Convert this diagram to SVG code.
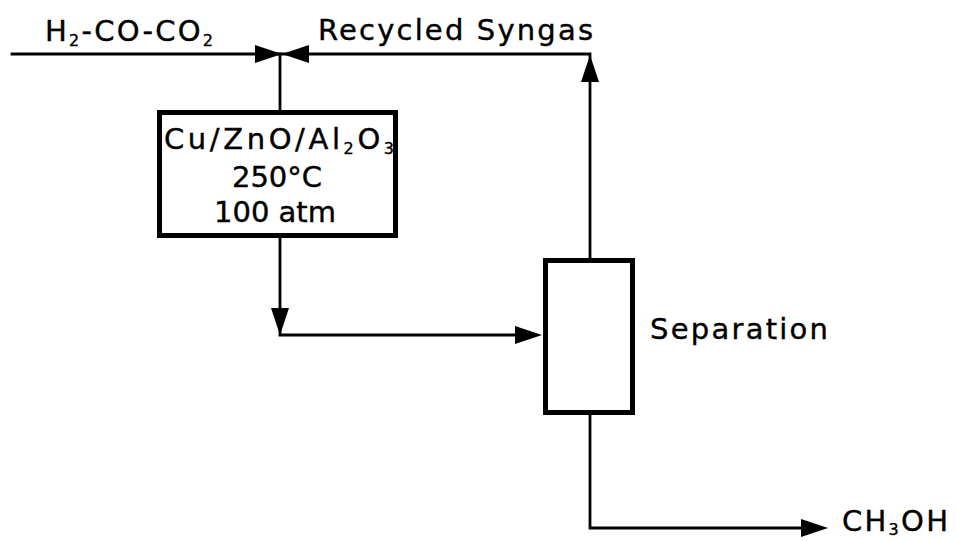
<svg xmlns="http://www.w3.org/2000/svg" xmlns:xlink="http://www.w3.org/1999/xlink" width="956" height="541" viewBox="0 0 956 541">
<style>
.bg{fill:#ffffff}
.line{fill:none;stroke:#000;stroke-width:2.8;stroke-linecap:square;stroke-linejoin:miter}
.box{fill:#ffffff;stroke:#000;stroke-width:5}
.t{font-family:"DejaVu Sans","Liberation Sans",sans-serif;font-size:29px;fill:#000;stroke:#000;stroke-width:0.4}
.sub{font-size:16px}
.head{fill:#000}
</style>
<defs>
<path id="ah" d="M0,0 L-27,-9 L-27,9 Z"/>
</defs>
<rect class="bg" x="0" y="0" width="956" height="541"/>
<g id="connectors">
<path class="line" d="M12,54 H590 V258"/>
<path class="line" d="M280,54 V112"/>
<path class="line" d="M280,238 V335 H530"/>
<path class="line" d="M590,415 V528 H815"/>
<use class="head" xlink:href="#ah" href="#ah" transform="translate(282,54)"/>
<use class="head" xlink:href="#ah" href="#ah" transform="translate(282,54) rotate(180)"/>
<use class="head" xlink:href="#ah" href="#ah" transform="translate(590,55) rotate(-90)"/>
<use class="head" xlink:href="#ah" href="#ah" transform="translate(280,335) rotate(90)"/>
<use class="head" xlink:href="#ah" href="#ah" transform="translate(542,335)"/>
<use class="head" xlink:href="#ah" href="#ah" transform="translate(828,528)"/>
</g>
<g id="feed-label">
<text class="t" x="45" y="41" textLength="168" lengthAdjust="spacing">H<tspan class="sub" dy="5">2</tspan><tspan dy="-5">-CO-CO</tspan><tspan class="sub" dy="5">2</tspan></text>
</g>
<g id="recycle-label">
<text class="t" x="318" y="40" textLength="275" lengthAdjust="spacing">Recycled Syngas</text>
</g>
<g id="reactor">
<rect class="box" x="159.5" y="112.5" width="236" height="123"/>
<text class="t" x="164" y="149" textLength="230" lengthAdjust="spacing">Cu/ZnO/Al<tspan class="sub" dy="5">2</tspan><tspan dy="-5">O</tspan><tspan class="sub" dy="5">3</tspan></text>
<text class="t" x="277" y="187" text-anchor="middle">250°C</text>
<text class="t" x="275" y="222" text-anchor="middle">100 atm</text>
</g>
<g id="separator">
<rect class="box" x="545.5" y="260.5" width="87" height="152"/>
<text class="t" x="650" y="339" textLength="178" lengthAdjust="spacing">Separation</text>
</g>
<g id="product-label">
<text class="t" x="842" y="531" font-size="26" textLength="106" lengthAdjust="spacing">CH<tspan class="sub" dy="4">3</tspan><tspan dy="-4">OH</tspan></text>
</g>
</svg>
